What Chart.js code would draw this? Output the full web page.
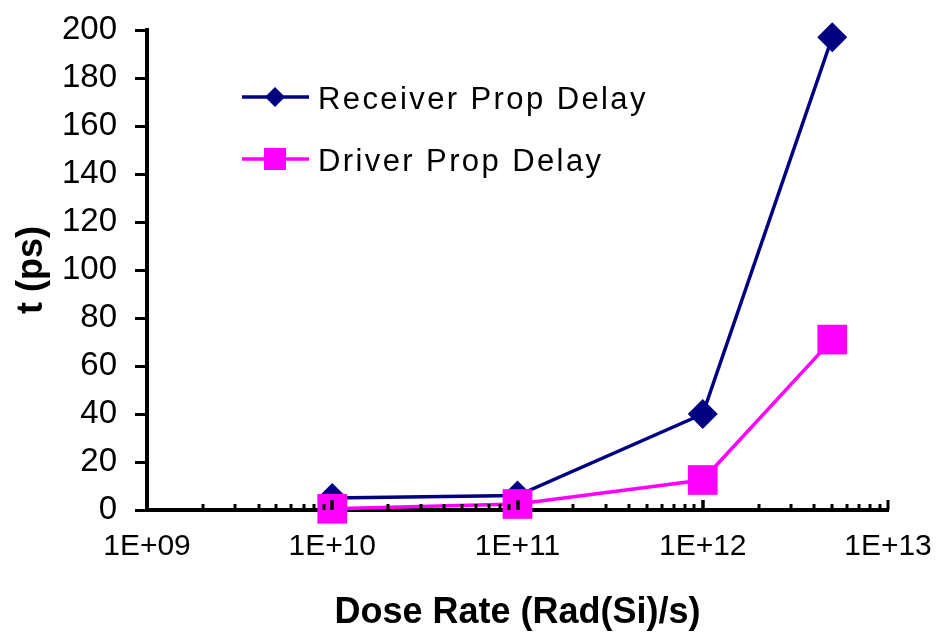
<!DOCTYPE html>
<html>
<head>
<meta charset="utf-8">
<script src="https://cdn.jsdelivr.net/npm/chart.js@4.4.1/dist/chart.umd.min.js"></script>
<style>
  html, body { margin: 0; padding: 0; background: #fff; }
  #wrap { width: 939px; height: 644px; }
</style>
</head>
<body>
<div id="wrap"><canvas id="c" width="939" height="644"></canvas></div>
<script>
// ---- data ----
const doseRates = [1e10, 1e11, 1e12, 5e12];
const receiverDelay = [5, 6, 40, 197];
const driverDelay = [0.5, 2.5, 12.5, 71];
const xTickValues = [1e9, 1e10, 1e11, 1e12, 1e13];
const yTickStep = 20;
const seriesNames = ['Receiver Prop Delay', 'Driver Prop Delay'];
const xTitle = 'Dose Rate (Rad(Si)/s)';
const yTitle = 't (ps)';

const FONT = '"Liberation Sans", Arial, sans-serif';
const NAVY = '#000080';
const MAGENTA = '#FF00FF';
const CLEAR = 'rgba(0,0,0,0)';

function fmtSci(v) {
  const e = Math.round(Math.log10(v));
  return '1E+' + String(e).padStart(2, '0');
}

// tick marks: x minor/major ticks pointing up, y ticks pointing left
const axisTicks = {
  id: 'axisTicks',
  afterDraw(chart) {
    const x = chart.scales.x, y = chart.scales.y;
    const ctx = chart.ctx;
    const base = y.getPixelForValue(0);
    ctx.save();
    ctx.strokeStyle = '#000';
    ctx.lineWidth = 3;
    for (let e = 9; e <= 12; e++) {
      for (let m = 1; m <= 10; m++) {
        const v = m * Math.pow(10, e);
        if (v > 1e13) continue;
        const px = Math.round(x.getPixelForValue(v));
        const h = (m === 1 || m === 10) ? 10 : 6;
        ctx.beginPath();
        ctx.moveTo(px, base);
        ctx.lineTo(px, base - h);
        ctx.stroke();
      }
    }
    const ax = x.left;
    y.ticks.forEach(t => {
      const py = Math.round(y.getPixelForValue(t.value)) + 0.5;
      ctx.beginPath();
      ctx.moveTo(ax - 12, py);
      ctx.lineTo(ax, py);
      ctx.stroke();
    });
    ctx.restore();
  }
};

// in-chart legend
const customLegend = {
  id: 'customLegend',
  afterDraw(chart) {
    const ctx = chart.ctx;
    ctx.save();
    const rows = [
      {y: 97, color: NAVY, shape: 'diamond', text: seriesNames[0]},
      {y: 159, color: MAGENTA, shape: 'square', text: seriesNames[1]}
    ];
    rows.forEach(r => {
      ctx.strokeStyle = r.color;
      ctx.lineWidth = 3.5;
      ctx.beginPath();
      ctx.moveTo(242, r.y);
      ctx.lineTo(309, r.y);
      ctx.stroke();
      ctx.fillStyle = r.color;
      const cx = 275;
      if (r.shape === 'diamond') {
        const s = 10;
        ctx.beginPath();
        ctx.moveTo(cx, r.y - s);
        ctx.lineTo(cx + s, r.y);
        ctx.lineTo(cx, r.y + s);
        ctx.lineTo(cx - s, r.y);
        ctx.closePath();
        ctx.fill();
      } else {
        const s = 11;
        ctx.fillRect(cx - s, r.y - s, 2 * s, 2 * s);
      }
      ctx.fillStyle = '#000';
      ctx.font = '31px ' + FONT;
      ctx.textBaseline = 'alphabetic';
      ctx.textAlign = 'left';
      try { ctx.letterSpacing = '2.4px'; } catch (e) {}
      ctx.fillText(r.text, 318, r.y + 12);
    });
    ctx.restore();
  }
};

new Chart(document.getElementById('c'), {
  type: 'line',
  data: {
    datasets: [
      {
        label: seriesNames[0],
        data: doseRates.map((x, i) => ({x, y: receiverDelay[i]})),
        borderColor: NAVY,
        backgroundColor: NAVY,
        borderWidth: 3.5,
        pointStyle: 'rectRot',
        pointRadius: 15,
        pointHoverRadius: 15,
        pointBorderWidth: 0,
        order: 1,
        clip: false,
        tension: 0
      },
      {
        label: seriesNames[1],
        data: doseRates.map((x, i) => ({x, y: driverDelay[i]})),
        borderColor: MAGENTA,
        backgroundColor: MAGENTA,
        borderWidth: 3.5,
        pointStyle: 'rect',
        pointRadius: 21,
        pointHoverRadius: 21,
        pointBorderWidth: 0,
        order: 0,
        clip: false,
        tension: 0
      }
    ]
  },
  options: {
    responsive: false,
    animation: false,
    events: [],
    layout: { padding: { left: 0, right: 51, top: 30, bottom: 0 } },
    plugins: {
      legend: { display: false },
      tooltip: { enabled: false }
    },
    scales: {
      x: {
        type: 'logarithmic',
        min: 1e9,
        max: 1e13,
        afterBuildTicks(s) { s.ticks = xTickValues.map(v => ({value: v, major: true})); },
        afterFit(s) { s.height = 134; },
        grid: {
          display: true,
          drawOnChartArea: false,
          drawTicks: true,
          tickLength: 19,
          color: CLEAR,
          tickColor: CLEAR
        },
        border: { display: true, color: '#000', width: 4 },
        ticks: {
          color: '#000',
          font: { family: FONT, size: 30 },
          padding: 0,
          maxRotation: 0,
          autoSkip: false,
          callback(v) { return fmtSci(v); }
        },
        title: {
          display: true,
          text: xTitle,
          color: '#000',
          font: { family: FONT, size: 36, weight: 'bold' },
          padding: { top: 0, bottom: 9 }
        }
      },
      y: {
        min: 0,
        max: 200,
        afterFit(s) { s.width = 147; },
        grid: {
          display: true,
          drawOnChartArea: false,
          drawTicks: true,
          tickLength: 30,
          color: CLEAR,
          tickColor: CLEAR
        },
        border: { display: true, color: '#000', width: 4 },
        ticks: {
          stepSize: yTickStep,
          color: '#000',
          font: { family: FONT, size: 33 },
          padding: 0
        },
        title: {
          display: true,
          text: yTitle,
          color: '#000',
          font: { family: FONT, size: 36, weight: 'bold' },
          padding: { top: 10, bottom: 0 }
        }
      }
    }
  },
  plugins: [axisTicks, customLegend]
});
</script>
</body>
</html>
